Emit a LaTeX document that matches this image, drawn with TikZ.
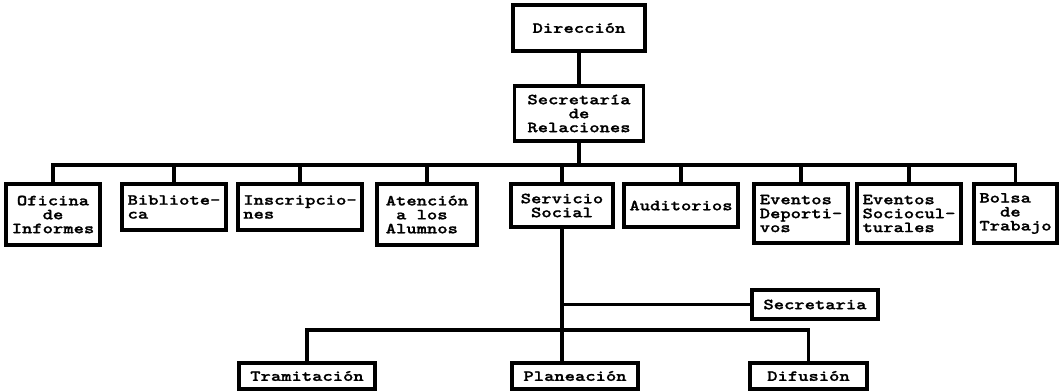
\documentclass[tikz,border=0pt]{standalone}
\usepackage{fontspec}
\newfontfamily\orgfont{lmmonolt10-bold}[Extension=.otf, FakeStretch=1.27, FakeBold=1.2]

\begin{document}
\begin{tikzpicture}[x=0.03cm, y=-0.03cm]
  \tikzset{unit/.style={draw, line width=3pt, inner sep=0pt, align=left,
                        font=\orgfont\fontsize{13.2}{11.9}\selectfont},
           dims/.style 2 args={minimum width=#1*0.03cm, minimum height=#2*0.03cm},
           link/.style={line width=2.7pt}}
  \useasboundingbox (0,0) rectangle (1063,390);
  % top
  \node[unit, dims={132}{46}] (dir) at (579,28) {Dirección};
  \node[unit, dims={129}{55}, align=center] (rel) at (579,113.5) {Secretaría\\de\\Relaciones};
  % second level
  \node[unit, dims={94}{61}, align=center] (ofi) at (53,214.5) {Oficina\\de\\Informes};
  \node[unit, dims={104}{46}] (bib) at (174,207) {Bibliote-\\ca};
  \node[unit, dims={124}{46}] (ins) at (300,207) {Inscripcio-\\nes};
  \node[unit, dims={100}{61}] (ate) at (427,214.5) {Atención\\\hphantom{O}a los\\Alumnos};
  \node[unit, dims={102}{43}, align=center] (ser) at (562,205.5) {Servicio\\Social};
  \node[unit, dims={114}{43}] (aud) at (681,205.5) {Auditorios};
  \node[unit, dims={94}{59}] (dep) at (801,213.5) {Eventos\\Deporti-\\vos};
  \node[unit, dims={104}{59}] (soc) at (909,213.5) {Eventos\\Sociocul-\\turales};
  \node[unit, dims={83}{59}] (bol) at (1015.5,213.5) {Bolsa\\\hphantom{OO}de\\Trabajo};
  % servicio social
  \node[unit, dims={126}{29}] (sec) at (815,304.5) {Secretaria};
  \node[unit, dims={136}{26}] (tra) at (307,376) {Tramitación};
  \node[unit, dims={126}{26}] (pla) at (575,376) {Planeación};
  \node[unit, dims={117}{26}] (dif) at (808.5,376) {Difusión};
  % links
  \coordinate (bus) at (579,165);
  \coordinate (fork) at (562,330);
  \draw[link] (dir) -- (rel);
  \draw[link] (rel) -- (bus);
  \draw[link] (ofi.north) |- (bus) -| (bol.north);
  \foreach \n in {bib,ins,ate,ser,aud,dep,soc}
    \draw[link] (\n.north) -- (\n.north |- bus);
  \draw[link] (ser.south) -- (ser.south |- pla.north);
  \draw[link] (sec) -- (sec -| ser.south);
  \draw[link] (tra.north) |- (fork) -| (dif.north);
\end{tikzpicture}
\end{document}
